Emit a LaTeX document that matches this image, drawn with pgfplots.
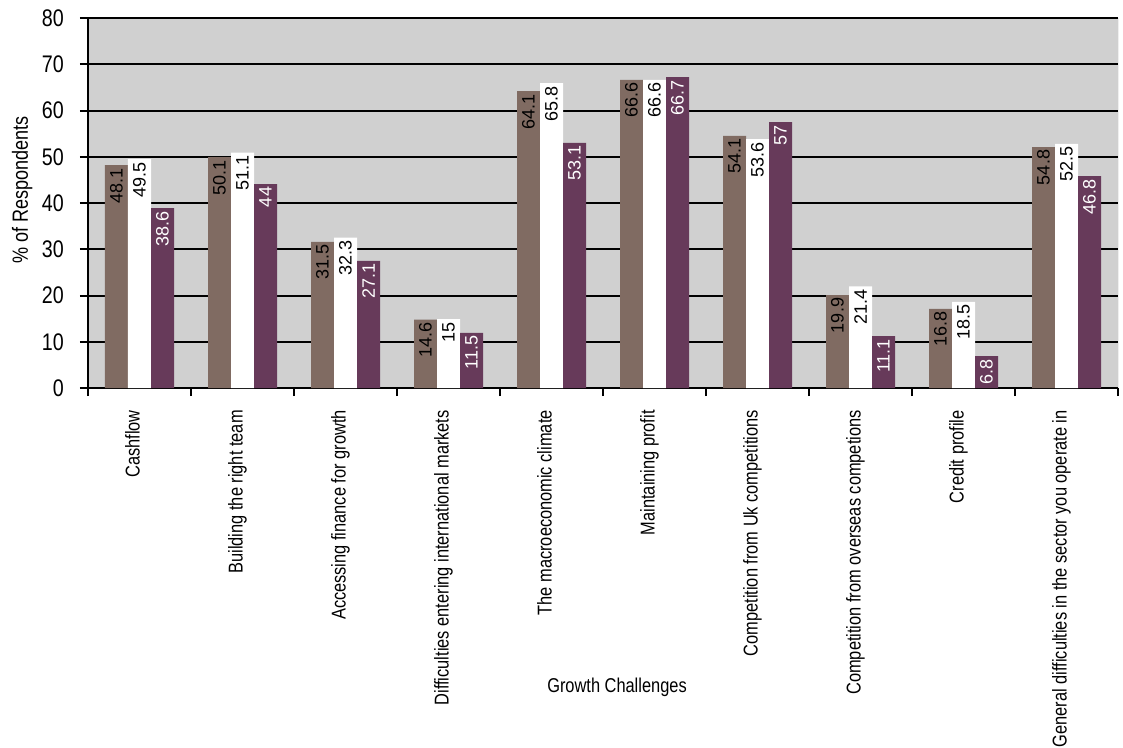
\documentclass[border=0pt]{standalone}
\usepackage{fontspec}
\setmainfont{Liberation Sans}
\newfontfamily\narrowfont[FakeStretch=0.82]{Liberation Sans}
\usepackage{pgfplots}
\pgfplotsset{compat=1.18}
\definecolor{bgray}{RGB}{208,208,208}
\definecolor{brownbar}{RGB}{128,107,98}
\definecolor{purplebar}{RGB}{103,58,90}
\begin{document}
\begin{tikzpicture}
\useasboundingbox (0,0) rectangle (842.25pt,560.25pt);
\begin{axis}[
  at={(66pt,269.25pt)}, anchor=south west,
  width=772.5pt, height=277.5pt, scale only axis,
  xmin=-0.5, xmax=9.5, ymin=0, ymax=80,
  enlarge x limits=false,
  ybar=0pt, bar width=17.25pt,
  axis x line=bottom, axis y line=left,
  axis line style={-, line width=1.5pt, black},
  axis background/.style={fill=bgray},
  ymajorgrids, major grid style={black, line width=1.5pt},
  ytick={0,10,...,80},
  xtick={-0.5,0.5,...,9.5}, xticklabels={},
  tick align=outside, major tick length=6pt,
  tick style={black, line width=1.5pt},
  /pgf/number format/assume math mode=true,
  y tick label style={font=\narrowfont\fontsize{18}{19}\selectfont, inner sep=0pt, xshift=-12pt},
  extra x ticks={0,1,2,3,4,5,6,7,8,9},
  extra x tick labels={Cashflow, Building the right team, Accessing finance for growth, Difficulties entering international markets, The macroeconomic climate, Maintaining profit, Competition from Uk competitions, Competition from overseas competions, Credit profile, General difficulties in the sector you operate in},
  extra x tick style={major tick length=0pt, grid=none,
    tick label style={yshift=-16.5pt, rotate=90, anchor=base east, inner sep=0pt,
      font=\narrowfont\fontsize{15}{16}\selectfont}},
  ylabel={\% of Respondents},
  ylabel style={at={(axis description cs:-0.064,0.535)}, anchor=center, rotate=0,
    font=\narrowfont\fontsize{16.5}{17}\selectfont},
  xlabel={Growth Challenges},
  xlabel style={at={(axis description cs:0.5136,-0.808)}, anchor=center,
    font=\narrowfont\fontsize{15}{16}\selectfont},
  point meta=explicit symbolic,
  nodes near coords,
  every node near coord/.append style={rotate=90, anchor=east, inner sep=2pt,
    font=\fontsize{13.5}{14}\selectfont},
]
\addplot[fill=brownbar, draw=none, nodes near coords style={black}] coordinates {
 (0,48.2)[48.1] (1,49.9)[50.1] (2,31.6)[31.5] (3,14.8)[14.6] (4,64.2)[64.1]
 (5,66.6)[66.6] (6,54.5)[54.1] (7,20.1)[19.9] (8,17.1)[16.8] (9,52.1)[54.8]};
\addplot[fill=white, draw=none, nodes near coords style={black}] coordinates {
 (0,49.5)[49.5] (1,50.9)[51.1] (2,32.5)[32.3] (3,14.9)[15] (4,65.9)[65.8]
 (5,66.6)[66.6] (6,53.8)[53.6] (7,22.0)[21.4] (8,18.6)[18.5] (9,52.8)[52.5]};
\addplot[fill=purplebar, draw=none, nodes near coords style={white}] coordinates {
 (0,38.9)[38.6] (1,44.1)[44] (2,27.5)[27.1] (3,11.9)[11.5] (4,53.0)[53.1]
 (5,67.2)[66.7] (6,57.5)[57] (7,11.2)[11.1] (8,6.9)[6.8] (9,45.8)[46.8]};
\draw[gray, line width=0.75pt] (rel axis cs:1,0) -- (rel axis cs:1,1);
\end{axis}
\end{tikzpicture}
\end{document}
